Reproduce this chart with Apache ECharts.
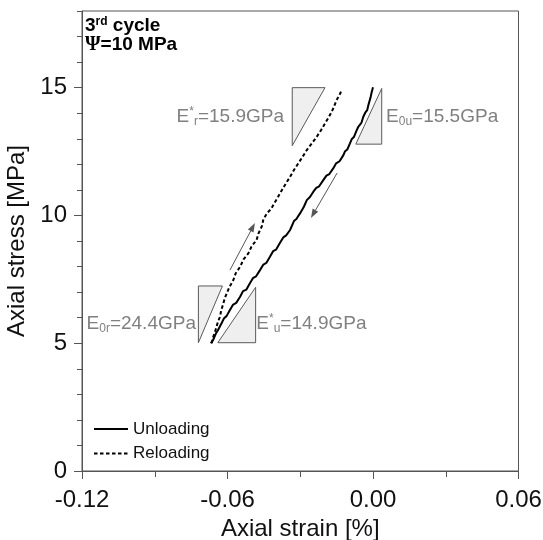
<!DOCTYPE html>
<html>
<head>
<meta charset="utf-8">
<script src="https://cdn.jsdelivr.net/npm/echarts@6/dist/echarts.min.js"></script>
<style>
html,body{margin:0;padding:0;background:#fff;}
#chart{width:543px;height:540px;}
</style>
</head>
<body>
<div id="chart"></div>
<script>
// ---------- data ----------
const unloadStrain = [0.0000,-0.0006,-0.0010,-0.0019,-0.0024,-0.0032,-0.0040,-0.0048,-0.0060,-0.0067,-0.0078,-0.0088,-0.0095,-0.0106,-0.0116,-0.0122,-0.0138,-0.0152,-0.0164,-0.0180,-0.0192,-0.0205,-0.0222,-0.0234,-0.0246,-0.0260,-0.0273,-0.0285,-0.0301,-0.0316,-0.0326,-0.0342,-0.0358,-0.0370,-0.0384,-0.0400,-0.0412,-0.0425,-0.0440,-0.0452,-0.0466,-0.0482,-0.0494,-0.0507,-0.0522,-0.0536,-0.0548,-0.0564,-0.0578,-0.0590,-0.0604,-0.0614,-0.0624,-0.0640,-0.0648,-0.0659,-0.0669];
const unloadStress = [15.02,14.80,14.62,14.32,14.12,14.02,13.86,13.62,13.48,13.34,13.08,12.98,12.82,12.58,12.50,12.36,12.12,12.04,11.84,11.62,11.56,11.38,11.14,11.08,10.93,10.72,10.60,10.34,10.08,9.86,9.78,9.43,9.22,9.14,8.92,8.66,8.60,8.38,8.14,8.08,7.86,7.62,7.56,7.36,7.10,7.04,6.82,6.58,6.50,6.30,6.06,5.98,5.79,5.50,5.38,5.13,5.00];
const reloadStrain = [-0.0665,-0.0659,-0.0653,-0.0645,-0.0640,-0.0631,-0.0626,-0.0617,-0.0612,-0.0603,-0.0592,-0.0576,-0.0566,-0.0548,-0.0534,-0.0514,-0.0500,-0.0480,-0.0472,-0.0459,-0.0452,-0.0438,-0.0420,-0.0411,-0.0392,-0.0376,-0.0360,-0.0342,-0.0326,-0.0308,-0.0290,-0.0273,-0.0252,-0.0232,-0.0214,-0.0198,-0.0184,-0.0170,-0.0160,-0.0150,-0.0138,-0.0129];
const reloadStress = [5.00,5.25,5.40,5.65,5.82,6.04,6.28,6.56,6.74,6.95,7.20,7.47,7.74,7.99,8.28,8.52,8.80,9.04,9.30,9.56,9.84,10.08,10.26,10.41,10.72,10.99,11.24,11.51,11.78,12.04,12.30,12.56,12.82,13.08,13.34,13.60,13.82,14.06,14.28,14.52,14.72,14.91];

// slope triangles (strain, stress of the three corners)
const triStrain = [[-0.0333,-0.0198,-0.0333],[0.0036,0.0036,-0.0071],[-0.0720,-0.0621,-0.0720],[-0.0484,-0.0484,-0.0640]];
const triStress = [[15.00,15.00,12.73],[14.97,12.79,12.79],[7.24,7.24,5.02],[7.19,5.02,5.02]];

// modulus labels and their anchors
const modLabels = ['{n|E}{sup|*}{sub|r}{n|=15.9GPa}','{n|E}{sub|0u}{n|=15.5GPa}','{n|E}{sub|0r}{n|=24.4GPa}','{n|E}{sup|*}{sub|u}{n|=14.9GPa}'];
const modStrain = [-0.0367,0.0054,-0.0730,-0.0481];
const modStress = [13.85,13.85,5.78,5.78];
const modAlign = ['right','left','right','left'];

// direction arrows (tail -> head)
const arrowFromStrain = [-0.0590,-0.0148];
const arrowFromStress = [7.86,11.66];
const arrowToStrain = [-0.0487,-0.0256];
const arrowToStress = [9.70,9.90];

const xTicks = [-0.12,-0.06,0.00,0.06];
const yTicks = [0,5,10,15];

// ---------- chart ----------
const chart = echarts.init(document.getElementById('chart'), null, {renderer:'canvas'});
const FONT = 'Liberation Sans, Arial, sans-serif';
const grey = '#808080';

const option = {
  animation:false,
  backgroundColor:'#fff',
  textStyle:{fontFamily:FONT},
  title:{
    left:85, top:16, padding:0,
    text:'{b|3}{sup|rd}{b| cycle}\n{psi|Ψ}{b|=10 MPa}',
    textStyle:{
      rich:{
        b:{fontSize:19,fontWeight:'bold',fontFamily:FONT,color:'#000',lineHeight:19},
        sup:{fontSize:12,fontWeight:'bold',fontFamily:FONT,color:'#000',lineHeight:11,verticalAlign:'top'},
        psi:{fontSize:20,fontWeight:'bold',fontFamily:'Liberation Serif, serif',color:'#000',lineHeight:19}
      }
    }
  },
  legend:{
    orient:'vertical', left:93, top:419, padding:0,
    itemWidth:34, itemHeight:14, itemGap:4.5,
    data:['Unloading','Reloading'],
    itemStyle:{opacity:0},
    textStyle:{fontSize:17,color:'#111',fontFamily:FONT,lineHeight:20}
  },
  grid:{left:82,right:24.5,top:11,bottom:69,show:true,borderColor:'#555',borderWidth:1,outerBoundsMode:'none',containLabel:false},
  xAxis:{
    type:'value', min:xTicks[0], max:xTicks[xTicks.length-1], interval:0.06,
    name:'Axial strain [%]', nameLocation:'middle', nameGap:45,
    nameTextStyle:{fontSize:24,color:'#111',fontFamily:FONT},
    axisLine:{onZero:false,lineStyle:{color:'#555',width:1}},
    axisTick:{length:8,lineStyle:{color:'#555'}},
    minorTick:{show:true,splitNumber:2,length:6,lineStyle:{color:'#555'}},
    splitLine:{show:false},
    axisLabel:{fontSize:24,color:'#111',margin:17,fontFamily:FONT,formatter:v=>v.toFixed(2)}
  },
  yAxis:[{
    type:'value', min:0, max:18, interval:5, position:'left',
    name:'Axial stress [MPa]', nameLocation:'middle', nameGap:49,
    nameTextStyle:{fontSize:24,color:'#111',fontFamily:FONT},
    axisLine:{onZero:false,lineStyle:{color:'#555',width:1}},
    axisTick:{length:8,lineStyle:{color:'#555'},customValues:yTicks},
    splitLine:{show:false},
    axisLabel:{fontSize:24,color:'#111',margin:15,fontFamily:FONT,customValues:yTicks}
  },{
    type:'value', min:0, max:18, interval:1, position:'left',
    axisLine:{show:false,onZero:false},
    axisTick:{show:true,length:5,lineStyle:{color:'#555'}},
    axisLabel:{show:false},
    splitLine:{show:false}
  }],
  series:[
    {
      type:'custom', name:'triangles', silent:true, z:1,
      data:triStrain.map((xs,i)=>[xs[0],triStress[i][0]]),
      renderItem:(params,api)=>{
        const i=params.dataIndex;
        const pts=triStrain[i].map((x,k)=>api.coord([x,triStress[i][k]]));
        return {type:'polygon',shape:{points:pts},style:{fill:'#efefef',stroke:'#5a5a5a',lineWidth:1}};
      }
    },
    {
      type:'line', name:'Unloading', symbol:'none', z:3,
      data:unloadStrain.map((x,i)=>[x,unloadStress[i]]),
      lineStyle:{color:'#000',width:2},
      itemStyle:{color:'#000'}
    },
    {
      type:'line', name:'Reloading', symbol:'none', z:3,
      data:reloadStrain.map((x,i)=>[x,reloadStress[i]]),
      lineStyle:{color:'#000',width:2,type:[3.5,2.5]},
      itemStyle:{color:'#000'}
    },
    {
      type:'custom', name:'arrows', silent:true, z:2,
      data:arrowFromStrain.map((x,i)=>[x,arrowFromStress[i]]),
      renderItem:(params,api)=>{
        const i=params.dataIndex;
        const a=api.coord([arrowFromStrain[i],arrowFromStress[i]]);
        const b=api.coord([arrowToStrain[i],arrowToStress[i]]);
        const dx=b[0]-a[0], dy=b[1]-a[1], L=Math.hypot(dx,dy);
        const ux=dx/L, uy=dy/L, px=-uy, py=ux;
        const hl=9, hw=3.2;
        const base=[b[0]-ux*hl,b[1]-uy*hl];
        return {type:'group',children:[
          {type:'line',shape:{x1:a[0],y1:a[1],x2:base[0],y2:base[1]},style:{stroke:'#555',lineWidth:1}},
          {type:'polygon',shape:{points:[b,[base[0]+px*hw,base[1]+py*hw],[base[0]-px*hw,base[1]-py*hw]]},style:{fill:'#555'}}
        ]};
      }
    },
    {
      type:'custom', name:'moduli', silent:true, z:4,
      data:modStrain.map((x,i)=>[x,modStress[i]]),
      renderItem:(params,api)=>{
        const i=params.dataIndex;
        const p=api.coord([modStrain[i],modStress[i]]);
        return {type:'text',x:p[0],y:p[1],style:{
          text:modLabels[i], align:modAlign[i], verticalAlign:'middle', fill:grey,
          rich:{
            n:{fontSize:19,fill:grey,fontFamily:FONT,lineHeight:22},
            sup:{fontSize:12,fill:grey,fontFamily:FONT,lineHeight:12,verticalAlign:'top'},
            sub:{fontSize:12,fill:grey,fontFamily:FONT,lineHeight:12,verticalAlign:'bottom'}
          }
        }};
      }
    }
  ]
};
chart.setOption(option);
</script>
</body>
</html>
